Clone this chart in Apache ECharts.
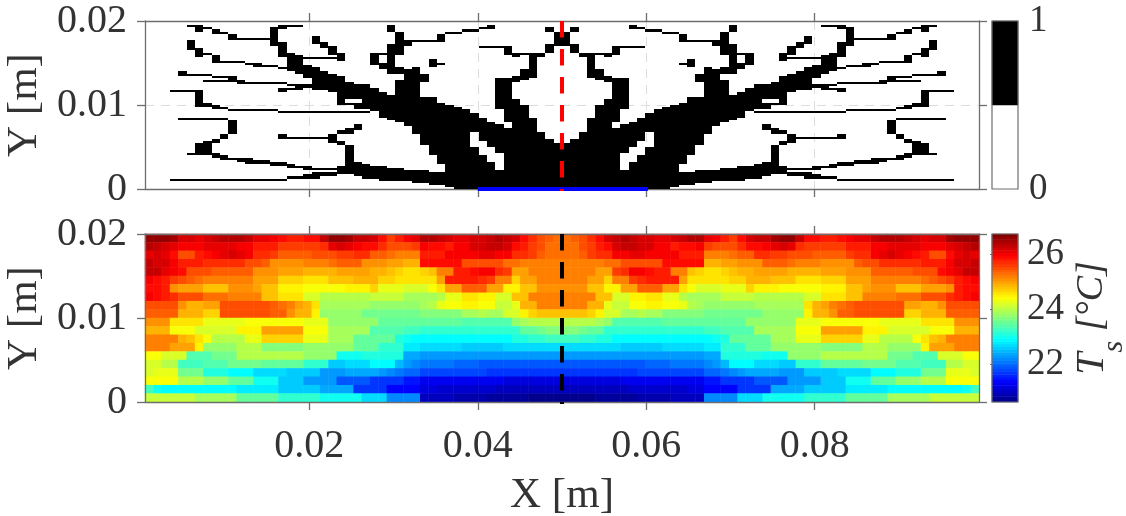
<!DOCTYPE html>
<html><head><meta charset="utf-8">
<style>html,body{margin:0;padding:0;background:#fff}#c{width:1126px;height:516px}</style>
<script src="https://cdn.jsdelivr.net/npm/echarts@6/dist/echarts.min.js"></script>
</head><body><div id="c"></div>
<script>
// Black spans per column (left half, columns 0..49 of a symmetric 100 x 80 design mesh): [firstRow, endRow)
const maskLeftColumns = [
[],[],[],
[[46,47],[4,5]],
[[54,56],[46,47],[33,34],[4,5]],
[[77,78],[66,71],[54,55],[46,47],[33,34],[16,17],[4,5]],
[[75,78],[63,67],[54,55],[39,47],[33,34],[16,22],[4,5]],
[[76,77],[64,65],[54,55],[51,52],[39,41],[33,34],[16,23],[4,5]],
[[74,76],[60,64],[53,54],[51,52],[38,40],[33,34],[22,24],[15,17],[4,5]],
[[74,75],[60,61],[53,54],[51,52],[38,39],[33,34],[24,26],[14,16],[4,5]],
[[71,74],[60,61],[51,54],[37,38],[26,33],[14,15],[4,5]],
[[71,72],[60,61],[50,52],[37,38],[13,15],[4,5]],
[[71,72],[59,60],[50,51],[37,38],[12,15],[4,5]],
[[71,72],[58,60],[50,51],[37,38],[12,14],[4,5]],
[[71,72],[58,59],[50,51],[37,38],[12,14],[4,5]],
[[68,77],[58,59],[50,51],[37,38],[11,13],[4,5]],
[[76,78],[63,70],[57,58],[50,51],[46,48],[36,37],[24,26],[11,13],[4,5]],
[[77,78],[56,65],[49,50],[47,48],[36,37],[24,25],[10,12],[5,6]],
[[77,78],[55,64],[47,50],[36,37],[24,25],[10,11],[5,6]],
[[62,63],[53,59],[48,50],[36,37],[24,25],[9,11],[5,7]],
[[69,73],[62,63],[47,58],[36,37],[24,25],[9,10],[5,8]],
[[67,70],[62,63],[47,56],[36,37],[24,25],[9,10],[6,8]],
[[64,68],[62,63],[46,55],[36,37],[22,26],[9,10],[6,8]],
[[61,65],[40,54],[36,37],[26,28],[21,23],[7,11]],
[[43,51],[40,41],[36,37],[26,29],[7,21]],
[[43,50],[38,41],[36,37],[28,31],[6,13]],
[[38,50],[36,37],[5,12]],
[[59,65],[37,48],[5,11]],
[[64,65],[57,60],[34,46],[4,11]],
[[75,78],[55,69],[33,45],[4,10]],
[[64,75],[55,58],[32,52],[4,10]],
[[68,71],[30,57],[4,9]],
[[70,71],[26,58],[3,9]],
[[70,71],[51,55],[21,44],[3,9]],
[[70,71],[58,62],[16,44],[2,8]],
[[70,74],[59,60],[12,41],[2,8]],
[[74,75],[1,40]],
[[74,75],[0,39]],
[[75,76],[0,38]],
[[75,76],[27,36],[0,20]],
[[76,77],[67,68],[23,34],[0,16]],
[[76,78],[67,68],[20,32],[0,13]],
[[67,68],[38,53],[17,31],[0,9]],
[[64,68],[32,53],[0,29]],
[[63,65],[51,54],[0,43]],
[[64,65],[52,57],[0,40]],
[[53,65],[0,34]],
[[63,65],[0,27]],
[[75,77],[65,69],[0,24]],
[[68,75],[0,22]]
];
// Surface temperature, left half, rows listed top (y=0.02) to bottom (y=0)
const tempLeftRows = [
[26.6,26.6,26.6,26.5,26.2,26.2,26.1,26.2,26.3,26.4,26.4,26.4,26.3,26.1,26.1,26.0,25.9,25.8,25.8,25.9,25.9,26.3,26.6,26.6,26.5,26.3,26.3,26.2,25.9,25.6,25.8,26.0,26.1,26.4,26.4,26.3,26.2,26.1,26.1,26.2,26.2,26.3,26.4,26.3,26.2,25.9,25.7,25.5,25.4,25.3],
[26.4,26.3,26.2,26.1,26.0,26.0,26.0,26.1,26.1,26.1,26.1,26.0,26.0,25.8,25.8,25.8,25.6,25.6,25.6,25.6,25.6,25.7,26.1,26.2,26.1,26.0,25.9,25.9,25.7,25.5,25.5,25.5,25.6,26.0,25.9,25.9,25.8,26.0,26.0,26.2,26.2,26.3,26.3,26.2,25.9,25.8,25.6,25.5,25.3,25.3],
[26.1,26.2,26.1,25.9,25.5,25.5,25.8,25.9,26.0,26.1,26.2,26.1,26.0,25.7,25.7,25.6,25.4,25.4,25.4,25.4,25.5,25.5,25.5,25.6,25.6,25.7,25.7,25.4,25.4,25.3,25.2,25.2,25.2,25.8,25.8,25.8,26.0,26.0,26.0,26.0,26.1,26.1,26.0,26.0,25.7,25.7,25.6,25.4,25.3,25.3],
[26.3,26.2,26.2,26.0,25.8,25.8,25.8,25.7,25.7,25.7,25.7,25.7,25.5,25.5,25.4,25.1,25.1,25.1,25.1,25.2,25.2,25.2,25.3,25.4,25.4,25.4,25.1,25.1,25.1,25.0,25.0,24.9,24.9,25.9,25.9,25.9,25.9,25.9,25.5,25.5,25.5,25.5,25.5,25.3,25.3,25.2,25.2,25.2,25.2,25.2],
[26.3,26.3,26.1,26.0,25.9,25.5,25.5,25.5,25.4,25.4,25.4,25.4,25.4,25.1,25.1,25.1,25.0,25.0,25.0,24.9,24.9,24.9,24.9,25.0,25.0,25.0,25.0,24.9,24.9,24.8,24.7,24.6,24.6,24.7,24.8,25.2,25.2,25.8,25.8,25.9,26.0,26.0,25.7,25.6,25.0,25.0,25.2,25.2,25.2,25.2],
[26.0,25.9,25.8,25.6,25.5,25.4,25.3,25.2,25.2,25.2,25.2,25.2,25.2,25.0,25.0,25.0,24.7,24.7,24.7,24.6,24.6,24.6,24.8,24.8,24.8,24.9,24.9,24.9,24.7,24.7,24.6,24.6,24.6,24.6,24.6,25.0,25.8,25.8,25.8,25.8,25.7,25.6,25.2,25.2,24.7,25.0,25.0,25.2,25.2,25.2],
[25.9,25.9,25.8,25.1,25.0,25.0,25.0,24.8,24.8,24.8,25.1,25.1,25.1,25.0,24.8,24.8,24.5,24.5,24.5,24.4,24.4,24.4,24.4,24.4,24.5,24.5,24.5,24.7,24.3,24.3,24.3,24.2,24.2,24.2,24.4,24.6,25.0,25.0,25.4,25.4,25.4,25.0,25.0,24.5,24.5,24.8,24.8,25.1,25.1,25.1],
[26.0,25.9,25.8,25.7,25.5,25.5,25.5,25.3,25.3,25.3,25.2,25.2,25.2,25.2,24.8,24.8,24.6,24.6,24.6,24.2,24.2,24.0,24.0,24.0,24.0,24.0,24.0,24.1,24.1,24.1,24.1,23.9,23.9,23.9,23.9,24.0,24.3,24.3,24.6,24.6,24.5,24.5,24.2,24.2,24.8,24.8,25.2,25.2,25.2,25.2],
[25.5,25.5,25.5,25.5,25.1,24.9,24.9,25.0,25.0,25.5,25.5,25.5,25.5,25.5,25.5,25.4,25.3,25.2,25.0,24.9,24.6,23.9,23.9,23.9,23.9,23.9,23.9,23.8,23.8,23.8,23.8,23.8,23.8,23.9,24.0,24.3,24.4,24.4,24.5,24.5,24.4,24.4,24.1,24.1,24.3,24.9,24.9,25.2,25.2,25.2],
[25.4,25.4,25.4,25.4,24.9,24.9,24.9,24.7,24.7,25.5,25.5,25.5,25.5,25.5,25.5,25.4,25.4,25.1,24.9,24.9,24.5,23.8,23.8,23.8,23.8,23.8,23.6,23.6,23.6,23.6,23.6,23.6,23.6,23.7,23.7,23.7,23.7,23.7,23.9,23.9,24.0,23.9,23.9,24.2,24.2,24.5,24.7,24.8,24.8,24.8],
[25.1,25.1,25.1,24.6,24.6,24.6,24.6,24.3,24.3,24.3,24.3,24.3,24.4,24.4,24.4,24.4,24.4,24.4,24.4,24.3,24.3,24.3,23.8,23.8,23.8,23.8,23.8,23.8,23.5,23.5,23.5,23.5,23.5,23.5,23.5,23.5,23.5,23.5,23.4,23.4,23.4,23.4,23.4,23.4,23.8,23.9,24.0,24.0,24.0,24.0],
[24.9,24.9,24.9,24.4,24.4,24.4,24.2,24.2,24.2,24.2,24.2,24.5,24.5,24.5,25.0,25.0,25.0,25.0,25.0,24.4,24.4,24.4,23.9,23.9,23.9,23.9,23.9,23.4,23.4,23.4,23.4,23.3,23.3,23.2,23.2,23.2,23.2,23.2,23.2,23.2,23.2,23.2,23.2,23.2,23.2,23.5,23.5,23.6,23.7,23.7],
[25.2,25.2,25.2,25.2,24.9,24.8,24.6,24.4,24.0,24.0,24.0,24.0,24.3,24.3,24.7,24.7,24.7,24.7,24.7,24.3,24.3,24.3,23.9,23.9,23.9,23.5,23.5,23.5,23.5,23.5,23.1,23.0,22.9,22.9,22.9,22.9,22.9,22.9,22.9,22.9,22.9,22.9,22.9,22.9,23.1,23.1,23.2,23.2,23.3,23.3],
[25.2,25.2,25.2,25.0,25.0,25.0,24.5,23.8,23.8,23.8,23.8,24.0,24.0,24.0,23.7,23.7,23.7,23.7,23.7,23.8,23.8,23.8,23.8,23.8,23.8,23.5,23.5,23.5,23.2,23.2,23.2,22.8,22.8,22.7,22.7,22.7,22.7,22.7,22.6,22.6,22.6,22.6,22.6,22.7,22.7,22.7,22.7,22.7,22.7,22.7],
[24.4,24.4,24.2,24.2,24.2,23.4,23.4,23.4,23.6,23.6,23.6,24.0,24.0,24.0,24.0,24.0,24.0,24.0,24.0,23.8,23.8,23.8,23.8,23.0,23.0,23.0,23.1,23.1,23.1,23.1,23.1,22.4,22.4,22.3,22.3,22.3,22.3,22.3,22.3,22.3,22.3,22.3,22.3,22.3,22.3,22.3,22.3,22.3,22.3,22.3],
[24.2,24.2,24.0,24.0,23.3,23.3,23.3,23.4,23.4,23.4,23.6,23.6,23.6,23.6,23.5,23.5,23.5,23.5,23.5,23.2,23.2,23.2,22.6,22.6,22.7,22.7,22.7,22.9,22.9,22.9,22.5,22.3,22.2,22.1,22.1,22.1,22.1,22.0,22.0,22.0,21.9,21.9,21.9,21.9,21.9,21.9,21.9,21.9,21.9,21.9],
[24.2,24.3,24.3,24.3,23.6,23.6,23.6,23.1,23.1,23.1,22.9,22.9,22.9,22.7,22.7,22.7,22.7,22.6,22.6,22.6,22.6,22.3,22.3,22.3,22.4,22.4,22.4,22.4,22.3,22.2,22.1,22.0,22.0,21.8,21.8,21.8,21.8,21.8,21.8,21.8,21.8,21.7,21.7,21.7,21.7,21.7,21.7,21.7,21.7,21.7],
[24.4,24.4,24.4,24.4,24.0,24.0,24.0,23.8,23.8,23.8,23.5,23.5,23.5,23.0,23.0,23.0,22.6,22.6,22.6,22.3,22.3,22.3,22.3,21.9,21.9,21.9,21.9,21.7,21.7,21.7,21.7,21.5,21.5,21.3,21.3,21.3,21.3,21.3,21.3,21.3,21.3,21.3,21.3,21.2,21.2,21.2,21.2,21.2,21.2,21.2],
[23.3,23.0,22.9,22.9,22.9,22.9,22.9,22.9,22.9,22.9,22.9,22.8,22.8,22.8,22.8,22.8,22.6,22.6,22.6,22.6,22.6,22.4,22.4,22.4,22.4,21.7,21.7,21.7,21.7,21.4,21.4,21.4,21.4,21.2,21.2,21.1,21.1,21.1,21.1,21.1,21.1,21.1,21.0,21.0,21.0,21.0,21.0,21.0,21.0,21.0],
[24.1,24.1,24.1,24.1,24.1,24.1,23.9,23.9,23.9,23.9,23.9,23.5,23.5,23.5,23.5,23.5,23.2,23.2,23.2,23.2,23.2,23.0,23.0,23.0,23.0,23.0,22.7,22.7,22.7,22.2,22.2,22.2,22.2,21.0,21.0,21.0,21.0,20.9,20.9,20.9,20.9,20.8,20.8,20.8,20.8,20.8,20.7,20.7,20.7,20.7]
];
const colorbarLevels = [20.7,20.8,20.9,21.0,21.1,21.2,21.3,21.4,21.5,21.6,21.7,21.8,21.9,22.0,22.1,22.2,22.3,22.4,22.5,22.6,22.7,22.8,22.9,23.0,23.1,23.2,23.3,23.4,23.5,23.6,23.7,23.8,23.9,24.0,24.1,24.2,24.3,24.4,24.5,24.6,24.7,24.8,24.9,25.0,25.1,25.2,25.3,25.4,25.5,25.6,25.7,25.8,25.9,26.0,26.1,26.2,26.3,26.4,26.5,26.6,26.7];
const maskLevels = [0,1];
const xTicks = [0.02,0.04,0.06,0.08];
const tempTicks = [22,24,26];
const yRange = [0,0.02];
const xRange = [0.0005,0.0995];
const tempRange = [20.63,26.72];
const inletX = [0.04,0.0602];
const cutX = 0.05;
const cutYEnd = -0.00024;

const FONT='Liberation Serif', TXT='#333333', AX='#6e6e6e';
const jet=['#000080','#0000ff','#0080ff','#00ffff','#80ff80','#ffff00','#ff8000','#ff0000','#800000'];

const NC=100,NR=80,NT=tempLeftRows.length;
const idx=n=>Array.from({length:n},(_,i)=>i);
const maskData=[];
maskLeftColumns.forEach((spans,c)=>spans.forEach(([a,b])=>{
  maskData.push([c,a,b]);maskData.push([NC-1-c,a,b]);
}));
const tempData=[];
tempLeftRows.forEach((row,i)=>row.forEach((v,c)=>{
  tempData.push([c,NT-1-i,v]);tempData.push([NC-1-c,NT-1-i,v]);
}));

const P1={left:145,top:21,width:834,height:168};
const P2={left:145,top:234,width:834,height:168};
const C1={left:992,top:21,width:26,height:168};
const C2={left:992,top:234,width:26,height:168};
const grid=[P1,P2,C1,C2,P1,P2,C1,C2].map((g,i)=>Object.assign({},g,{containLabel:false,outerBoundsMode:'none',
  show:i>=6,borderColor:AX,borderWidth:1.2,backgroundColor:'transparent',z:i>=6?6:0}));

const catAxis=(g,n)=>({type:'category',gridIndex:g,data:idx(n),show:false,boundaryGap:true});
const lab={fontFamily:FONT,fontSize:40,color:TXT};
const lab2={fontFamily:FONT,fontSize:37,color:TXT};
const line={show:true,onZero:false,lineStyle:{color:AX,width:1.3}};
const tick={show:true,length:8,lineStyle:{color:AX,width:1.3}};
function xVal(g,z,pos,labels,split,nameOn){
  return {type:'value',gridIndex:g,position:pos,min:xRange[0],max:xRange[1],z,
    axisLine:line,axisTick:Object.assign({},tick,{customValues:xTicks}),
    axisLabel:{show:labels,customValues:xTicks,margin:24,formatter:v=>v.toFixed(2),...lab},
    splitLine:{show:split,lineStyle:{color:'#dddddd',type:[9,7],width:1}},
    name:nameOn?'X [m]':'',nameLocation:'middle',nameGap:72,nameTextStyle:{fontFamily:FONT,fontSize:43,color:TXT}};
}
function yVal(g,z,pos,labels,split,nameOn){
  return {type:'value',gridIndex:g,position:pos,min:yRange[0],max:yRange[1],interval:0.01,z,
    axisLine:line,axisTick:tick,
    axisLabel:{show:labels,margin:18,formatter:v=>v===0?'0':v.toFixed(2),...lab},
    splitLine:{show:split,lineStyle:{color:'#dddddd',type:[9,7],width:1}},
    name:nameOn?'Y [m]':'',nameLocation:'middle',nameGap:83,nameRotate:90,nameTextStyle:{fontFamily:FONT,fontSize:43,color:TXT}};
}
const xAxis=[{type:'value',gridIndex:0,min:0,max:NC,show:false},catAxis(1,NC),catAxis(2,1),catAxis(3,1),
  xVal(4,0,'bottom',false,true,false),xVal(4,0,'top',false,false,false),
  xVal(5,5,'bottom',true,false,true),xVal(5,5,'top',false,false,false),
  {type:'value',gridIndex:6,show:false},{type:'value',gridIndex:7,show:false}];
const yAxis=[{type:'value',gridIndex:0,min:0,max:NR,show:false},catAxis(1,NT),catAxis(2,maskLevels.length),catAxis(3,colorbarLevels.length),
  yVal(4,0,'left',true,true,true),yVal(4,0,'right',false,false,false),
  yVal(5,5,'left',true,false,true),yVal(5,5,'right',false,false,false),
  {type:'value',gridIndex:6,position:'right',min:0,max:1,interval:1,z:7,axisLine:{show:false},axisTick:{show:false},splitLine:{show:false},
    axisLabel:{margin:11,...lab2}},
  {type:'value',gridIndex:7,position:'right',min:tempRange[0],max:tempRange[1],z:7,axisLine:{show:false},
    axisTick:{show:true,inside:true,length:2,customValues:tempTicks,lineStyle:{color:AX}},splitLine:{show:false},
    axisLabel:{margin:9,customValues:tempTicks,...lab2},
    name:'{t|T}{s|s}{u| [°C]}',nameLocation:'middle',nameGap:37,nameRotate:90,
    nameTextStyle:{rich:{
      t:{fontFamily:FONT,fontStyle:'italic',fontSize:40,color:TXT},
      s:{fontFamily:FONT,fontStyle:'italic',fontSize:30,color:TXT,verticalAlign:'bottom',padding:[44,0,0,0]},
      u:{fontFamily:FONT,fontStyle:'italic',fontSize:38,color:TXT}}}}
];

const heat=(x,y,data,z)=>({type:'heatmap',xAxisIndex:x,yAxisIndex:y,data,z,progressive:0,animation:false,emphasis:{disabled:true},
  itemStyle:{borderWidth:0}});
const vline=(x,y,data,color,dash,z)=>({type:'line',xAxisIndex:x,yAxisIndex:y,data,symbol:'none',clip:false,silent:true,z,animation:false,
  lineStyle:{color,width:4,type:dash,cap:'butt'}});
const series=[
  {type:'custom',xAxisIndex:0,yAxisIndex:0,data:maskData,z:2,animation:false,silent:true,progressive:0,clip:true,
   encode:{x:0,y:[1,2]},
   renderItem:(params,api)=>{
     const c=api.value(0),a=api.value(1),b=api.value(2);
     const p0=api.coord([c,b]),p1=api.coord([c+1,a]);
     const x=Math.round(p0[0]),y=Math.round(p0[1]);
     return {type:'rect',shape:{x,y,width:Math.round(p1[0])-x,height:Math.max(2,Math.round(p1[1])-y)},style:{fill:'#000000'}};
   }},
  heat(1,1,tempData,2),
  heat(2,2,maskLevels.map((v,i)=>[0,i,v]),2),
  heat(3,3,colorbarLevels.map((v,i)=>[0,i,v]),2),
  vline(4,4,inletX.map(x=>[x,0]),'#0000ff','solid',8),
  vline(4,4,[[cutX,yRange[1]],[cutX,cutYEnd]],'#ff0000',[16.5,11.5],9),
  vline(6,6,[[cutX,yRange[1]],[cutX,cutYEnd]],'#000000',[16.5,11.5],9)
];
const chart=echarts.init(document.getElementById('c'),null,{renderer:'canvas'});
chart.setOption({animation:false,backgroundColor:'#ffffff',grid,xAxis,yAxis,series,tooltip:{show:false},
  visualMap:[
   {type:'continuous',show:false,seriesIndex:[1,3],min:tempRange[0],max:tempRange[1],inRange:{color:jet}},
   {type:'continuous',show:false,seriesIndex:[2],min:0,max:1,inRange:{color:['#ffffff','#000000']}}
  ]});
</script></body></html>
